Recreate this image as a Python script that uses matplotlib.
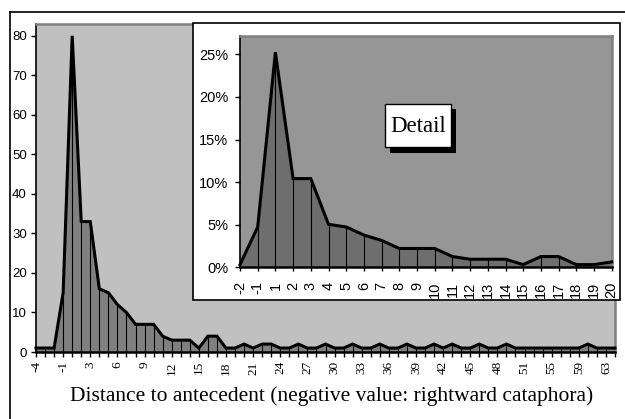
import matplotlib
matplotlib.use("Agg")
import matplotlib.pyplot as plt
from matplotlib.patches import Rectangle
from matplotlib.lines import Line2D
import numpy as np

# ---------------------------------------------------------------------------
# data
# ---------------------------------------------------------------------------
distance = [-4, -3, -2, -1, 1, 2, 3, 4, 5, 6, 7, 8, 9, 10, 11, 12, 13, 14,
            15, 16, 17, 18, 19, 20, 21, 22, 23, 24, 25, 26, 27, 28, 29, 30,
            31, 32, 33, 34, 35, 36, 37, 38, 39, 40, 41, 42, 43, 44, 45, 46,
            47, 48, 49, 50, 51, 52, 54, 55, 57, 58, 59, 60, 62, 63, 67]
counts = [1, 1, 1, 15, 80, 33, 33, 16, 15, 12, 10, 7, 7, 7, 4, 3, 3, 3, 1,
          4, 4, 1, 1, 2, 1, 2, 2, 1, 1, 2, 1, 1, 2, 1, 1, 2, 1, 1, 2, 1, 1,
          2, 1, 1, 2, 1, 2, 1, 1, 2, 1, 1, 2, 1, 1, 1, 1, 1, 1, 1, 1, 2, 1,
          1, 1]

# detail window: distances -2 .. 20, as share of all cases
detail_from, detail_to = 2, 24
detail_labels = distance[detail_from:detail_to]
detail_pct = [100.0 * c / sum(counts) for c in counts[detail_from:detail_to]]

main_yticks = [0, 10, 20, 30, 40, 50, 60, 70, 80]
detail_yticks = [0, 5, 10, 15, 20, 25]
xlabel = "Distance to antecedent (negative value: rightward cataphora)"

SANS = ["Liberation Sans", "DejaVu Sans"]
SERIF = ["Liberation Serif", "DejaVu Serif"]

W, H = 625, 419


def fx(px):
    return px / W


def fy(py):
    return 1 - py / H


def area_chart(ax, values, bg, fill):
    x = np.arange(len(values))
    ax.set_facecolor(bg)
    ax.fill_between(x, 0, values, color=fill, lw=0, zorder=2)
    ax.vlines(x, 0, values, color="black", lw=0.8, zorder=3)
    ax.plot(x, values, color="black", lw=2.2, solid_joinstyle="miter",
            zorder=4, clip_on=False)
    ax.set_xlim(0, len(values) - 1)
    for s in ("top", "right"):
        ax.spines[s].set_color("#808080")
        ax.spines[s].set_linewidth(1.8)
    for s in ("left", "bottom"):
        ax.spines[s].set_color("black")
    ax.spines["bottom"].set_linewidth(1.8)
    ax.spines["left"].set_linewidth(1.2)
    ax.spines["bottom"].set_zorder(5)
    return x


fig = plt.figure(figsize=(W / 100, H / 100), dpi=100)
fig.patch.set_facecolor("white")

# outer frame (top and left edges visible)
fig.add_artist(Line2D([fx(10), fx(10)], [fy(12), 0], color="black", lw=1.2))
fig.add_artist(Line2D([fx(10), 1], [fy(12), fy(12)], color="black", lw=1.2))

# ------------------------------------------------------------------
# main chart
# ------------------------------------------------------------------
ax = fig.add_axes([fx(36), fy(352), fx(615) - fx(36), fy(24) - fy(352)])
x = area_chart(ax, counts, "#c0c0c0", "#808080")
ax.set_ylim(0, 83)
ax.set_yticks(main_yticks)
ax.set_yticklabels([str(v) for v in main_yticks], family=SANS, fontsize=9.5)
ax.set_xticks(x)
ax.set_xticklabels([str(d) if i % 3 == 0 else "" for i, d in enumerate(distance)],
                   family=SERIF, fontsize=9.5, rotation=90)
ax.tick_params(axis="y", length=3.6, width=1, pad=3)
ax.tick_params(axis="x", length=3.4, width=1, pad=3.2)
fig.text(fx(332), fy(401), xlabel, family=SERIF, fontsize=15.5,
         ha="center", va="baseline")

# ------------------------------------------------------------------
# detail chart
# ------------------------------------------------------------------
frame = Rectangle((fx(193), fy(300)), fx(620) - fx(193), fy(23) - fy(300),
                  transform=fig.transFigure, facecolor="white",
                  edgecolor="black", lw=1.2, zorder=1)
fig.add_artist(frame)

ins = fig.add_axes([fx(240), fy(267.3), fx(611.7) - fx(240), fy(36) - fy(267.3)])
ins.set_zorder(2)
xi = area_chart(ins, detail_pct, "#969696", "#6e6e6e")
ins.set_ylim(0, 27.15)
ins.set_yticks(detail_yticks)
ins.set_yticklabels([f"{v}%" for v in detail_yticks], family=SANS, fontsize=10.5)
ins.tick_params(axis="y", length=3.6, width=1, pad=5)
ins.set_xticks(xi)
ins.set_xticklabels([str(d) for d in detail_labels], family=SANS, fontsize=10.5,
                    rotation=90)
ins.tick_params(axis="x", length=3.2, width=1, pad=7)

# "Detail" label box with drop shadow
shadow = Rectangle((fx(390), fy(153)), fx(456) - fx(390), fy(109) - fy(153),
                   transform=fig.transFigure, facecolor="black", lw=0, zorder=3)
box = Rectangle((fx(385), fy(147)), fx(451) - fx(385), fy(104) - fy(147),
                transform=fig.transFigure, facecolor="white",
                edgecolor="black", lw=1, zorder=4)
fig.add_artist(shadow)
fig.add_artist(box)
fig.text(fx(418), fy(126), "Detail", family=SERIF, fontsize=16.5,
         ha="center", va="center", zorder=5)

fig.savefig("out.png", dpi=100)
